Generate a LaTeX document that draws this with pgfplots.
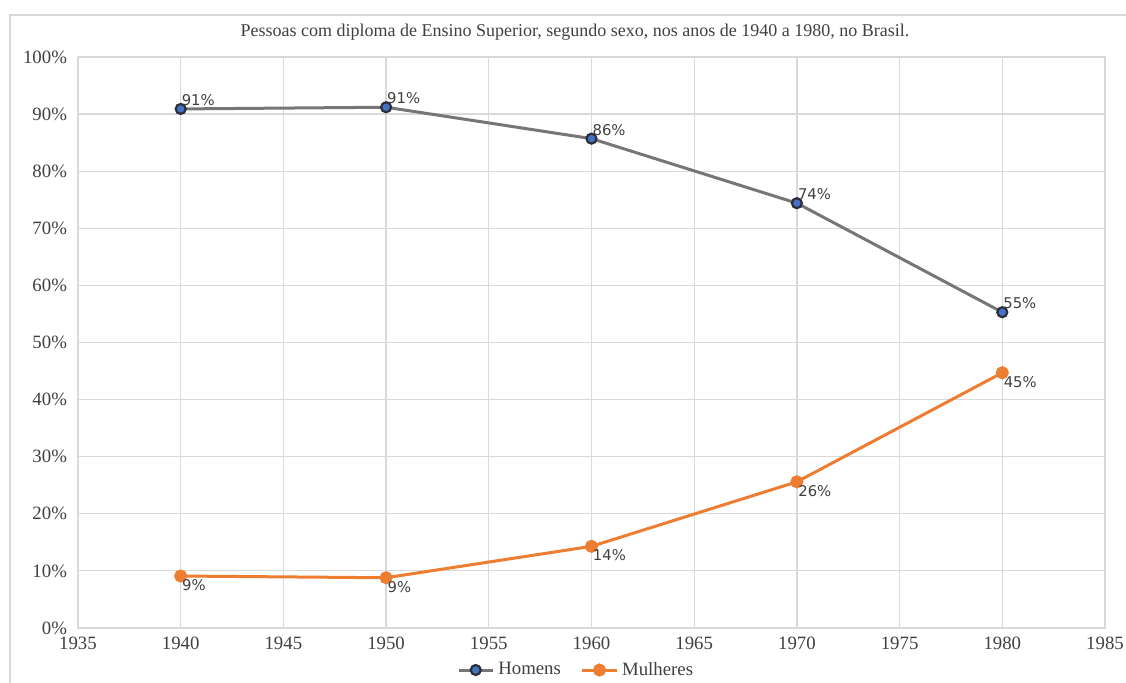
\documentclass[border=0pt]{standalone}
\usepackage{fontspec}
\setmainfont{Liberation Serif}
\newfontfamily\dv{DejaVu Sans}
\usepackage{pgfplots}
\pgfplotsset{compat=1.18}
\definecolor{gridc}{HTML}{D9D9D9}
\definecolor{homc}{HTML}{767676}
\definecolor{homfill}{HTML}{4472C4}
\definecolor{homedge}{HTML}{2B2F3A}
\definecolor{mulc}{HTML}{ED7D31}
\definecolor{txt}{HTML}{404040}
\begin{document}
\begin{tikzpicture}
\path[use as bounding box] (-39pt,-27.5pt) rectangle (524pt,314pt);
\draw[gridc, line width=0.6pt] (-34pt,-27.5pt) -- (-34pt,306.5pt) -- (524pt,306.5pt);
\begin{axis}[
  at={(0pt,0pt)}, anchor=south west,
  scale only axis, width=513.5pt, height=285.5pt,
  xmin=1935, xmax=1985, ymin=0, ymax=100,
  xtick={1935,1940,...,1985}, ytick={0,10,...,100},
  grid=major, major grid style={gridc, line width=0.6pt},
  axis line style={gridc, line width=0.6pt},
  tick style={draw=none},
  /pgf/number format/assume math mode=true,
  /pgf/number format/1000 sep={},
  xticklabel style={font=\fontsize{9.4}{10}\selectfont, text=txt, yshift=-1pt},
  yticklabel style={font=\fontsize{9.4}{10}\selectfont, text=txt, xshift=-2pt},
  yticklabel={\pgfmathprintnumber{\tick}\%},
  legend style={at={(0.486,-0.0736)}, anchor=center, draw=none, fill=none,
    legend columns=2, font=\fontsize{9.4}{10}\selectfont, text=txt,
    /tikz/every even column/.append style={column sep=8pt}},
  legend cell align=left,
  nodes near coords={\pgfmathprintnumber[fixed,precision=0]{\pgfplotspointmeta}\%},
  point meta=y,
  every node near coord/.append style={font=\dv\fontsize{7.4}{8}\selectfont, text=txt, inner sep=1pt},
  clip=false,
]
\addplot[color=homc, line width=1.5pt, mark=*, mark size=2.5pt,
  mark options={fill=homfill, draw=homedge, line width=1.1pt},
  every node near coord/.append style={anchor=south west, xshift=-1pt, yshift=0pt}]
  coordinates {(1940,90.9) (1950,91.2) (1960,85.7) (1970,74.4) (1980,55.3)};
\addlegendentry{Homens}
\addplot[color=mulc, line width=1.5pt, mark=*, mark size=2.5pt,
  mark options={fill=mulc, draw=mulc},
  every node near coord/.append style={anchor=north west, xshift=-1pt, yshift=0pt}]
  coordinates {(1940,9.1) (1950,8.8) (1960,14.3) (1970,25.6) (1980,44.7)};
\addlegendentry{Mulheres}
\node[font=\fontsize{9}{10}\selectfont, text=txt, anchor=center] at (axis description cs:0.484,1.0438)
  {Pessoas com diploma de Ensino Superior, segundo sexo, nos anos de 1940 a 1980, no Brasil.};
\end{axis}
\end{tikzpicture}
\end{document}
